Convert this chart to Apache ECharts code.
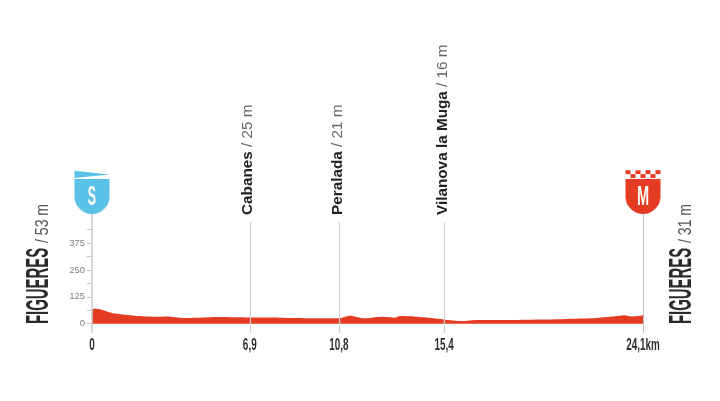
<!DOCTYPE html>
<html>
<head>
<meta charset="utf-8">
<style>html,body{margin:0;padding:0;background:#fff}#c{width:720px;height:401px}</style>
<script src="https://cdn.jsdelivr.net/npm/echarts@6/dist/echarts.min.js"></script>
</head>
<body>
<div id="c"></div>
<script>
var profileKm = [0,0.2,0.92,1.35,2.0,3.0,3.3,4.0,4.9,5.6,6.9,7.9,8.8,9.7,10.8,11.28,11.72,12.0,12.3,12.7,13.25,13.47,14.05,14.65,15.4,16.2,16.85,18.3,19.7,20.8,21.9,22.65,23.3,23.6,24.1];
var profileAlt = [68,69,48,43,36,32,33,26,29,31,29,29,26,25,25,37,28,25,29,32,28,36,34,29,20,12,17,17,19,22,25,32,39,33,39];
var waypointNames = ['Cabanes','Peralada','Vilanova la Muga'];
var waypointKm = [6.9,10.8,15.4];
var waypointAlt = [25,21,16];
var endNames = ['FIGUERES','FIGUERES'];
var endKm = [0,24.1];
var endAlt = [53,31];
var distanceTicks = [0,6.9,10.8,15.4,24.1];
var altitudeLabels = [0,125,250,375];
var altitudeTicks = [0,62.5,125,187.5,250,312.5,375,437.5];

var RED = '#E53B22', BLUE = '#5BC2E7';
var sans = '"Liberation Sans",Arial,sans-serif';
var chart = echarts.init(document.getElementById('c'), null, {renderer:'canvas'});

function guide(km, top, color, width){
  return [{coord:[km,-43], lineStyle:{color:color,width:width,type:'solid'}},{coord:[km,top]}];
}
var guides = waypointKm.map(function(k){return guide(k,472,'#cfcfcf',1.2);})
  .concat([guide(endKm[0],510,'#cfcfcf',1.6), guide(endKm[1],510,'#bdbdbd',1)]);

chart.setOption({
  animation:false,
  backgroundColor:'#fff',
  grid:{left:92,right:77,top:202.65,height:134.5,containLabel:false},
  xAxis:{type:'value',min:0,max:24.1,splitLine:{show:false},axisLine:{show:false},axisTick:{show:false},axisLabel:{show:false}},
  yAxis:{type:'value',min:-62.5,max:562.5,interval:62.5,splitLine:{show:false},axisLine:{show:false},
    axisTick:{show:true,length:5,customValues:altitudeTicks,lineStyle:{color:'#c4c4c4',width:1}},
    axisLabel:{margin:7,customValues:altitudeLabels,fontFamily:sans,fontSize:9.5,color:'#808080'}},
  series:[
    {type:'line',z:1,symbol:'none',lineStyle:{width:0},data:[[0,0]],markLine:{silent:true,symbol:'none',label:{show:false},data:guides}},
    {type:'line',z:2,symbol:'none',showSymbol:false,smooth:0.2,lineStyle:{width:0,color:RED},areaStyle:{color:RED,opacity:1,origin:0},
      data:profileKm.map(function(k,i){return [k,profileAlt[i]];})}
  ]
});

function px(km,alt){return chart.convertToPixel({gridIndex:0},[km,alt]);}
var g=[];
function rotText(x,y,text,size,color,weight,sc){
  g.push({type:'text',x:x,y:y,rotation:Math.PI/2,scaleX:sc||1,scaleY:1,z:10,
    style:{text:text,fontFamily:sans,fontSize:size,fontWeight:weight||'normal',fill:color,align:'left',verticalAlign:'middle'}});
}
// distance labels
distanceTicks.forEach(function(v){
  var p=px(v,0), s=String(v).replace('.',',');
  if(v===endKm[1]) s+='km';
  g.push({type:'text',x:p[0],y:345.5,scaleX:0.6,z:10,
    style:{text:s,fontFamily:sans,fontSize:16.5,fontWeight:'bold',fill:'#2e2e2e',align:'center',verticalAlign:'middle'}});
});
// waypoint labels
waypointNames.forEach(function(n,i){
  var p=px(waypointKm[i],0);
  g.push({type:'text',x:p[0]-1.5,y:215,rotation:Math.PI/2,z:10,
    style:{text:'{a|'+n+'}{b| / '+waypointAlt[i]+' m}',fontFamily:sans,align:'left',verticalAlign:'middle',
      rich:{a:{fontFamily:sans,fontSize:15.3,fontWeight:'bold',fill:'#222',color:'#222'},
            b:{fontFamily:sans,fontSize:15.3,fill:'#666',color:'#666'}}}});
});
// start/finish names
endNames.forEach(function(n,i){
  var cx=i===0?39.5:682;
  rotText(cx,324,n,32,'#2b2b2b','bold',0.466);
  rotText(cx+3.5,243,'/ '+endAlt[i]+' m',19,'#555','normal',0.74);
});
// shields
function shield(cx,color,letter,sc){
  g.push({type:'rect',z:10,shape:{x:cx-17.5,y:179,width:35,height:18.5},style:{fill:color}});
  g.push({type:'sector',z:10,shape:{cx:cx,cy:196.5,r:17.5,r0:0,startAngle:0,endAngle:Math.PI},style:{fill:color}});
  g.push({type:'text',x:cx,y:197.5,z:11,scaleX:sc,
    style:{text:letter,fontFamily:sans,fontSize:27.5,fontWeight:'bold',fill:'#fff',align:'center',verticalAlign:'middle'}});
}
var s=px(endKm[0],0), m=px(endKm[1],0);
shield(s[0],BLUE,'S',0.45);
g.push({type:'polygon',z:10,shape:{points:[[s[0]-17.5,170.7],[s[0]+17.5,174.6],[s[0]-17.5,178]]},style:{fill:BLUE}});
shield(m[0],RED,'M',0.53);
[[1,0,1,0,1,0,1],[0,1,0,1,0,1,0]].forEach(function(row,r){
  row.forEach(function(on,c){
    if(on) g.push({type:'rect',z:10,shape:{x:m[0]-17.5+c*5,y:170.2+r*3.9,width:5,height:3.9},style:{fill:RED}});
  });
});
chart.setOption({graphic:g});
</script>
</body>
</html>
